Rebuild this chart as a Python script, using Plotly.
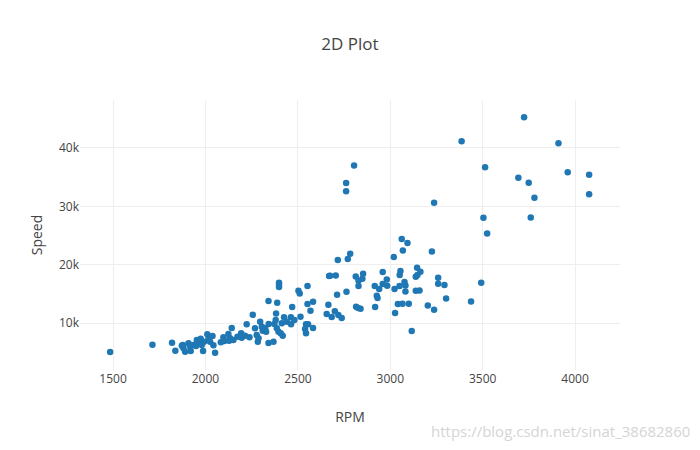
import plotly.graph_objects as go

rpm = [1484, 1713, 1819, 1837, 1872, 1881, 1890, 1877, 1908, 1920, 1917, 1935, 1953, 1962, 1949,
       1974, 1980, 1987, 1992, 2010, 2016, 2025, 2038, 2043, 2052, 2083, 2097, 2102, 2124, 2142,
       2133, 2151, 2128, 2173, 2193, 2196, 2214, 2223, 2238, 2256, 2268, 2277, 2283, 2287, 2296,
       2305, 2310, 2323, 2328, 2341, 2341, 2368, 2342, 2373, 2380, 2388, 2382, 2398, 2398, 2398,
       2386, 2395, 2407, 2418, 2413, 2425, 2440, 2462, 2463, 2469, 2481, 2514, 2503, 2510, 2552,
       2552, 2582, 2568, 2544, 2555, 2539, 2544, 2582, 2656, 2665, 2669, 2674, 2705, 2683, 2700,
       2719, 2737, 2712, 2763, 2716, 2770, 2783, 2813, 2828, 2849, 2853, 2828, 2815, 2826, 2839,
       2918, 2927, 2931, 2916, 2940, 2959, 2959, 2981, 2983, 3019, 3026, 3023, 3050, 3041, 3066,
       3100, 3062, 3093, 3068, 3051, 3055, 3077, 3082, 3082, 3116, 3138, 3145, 3147, 3163, 3138,
       3158, 3203, 3225, 3237, 3259, 3259, 3293, 3302, 3437, 3492, 3524, 3237, 3386, 3504, 3513,
       3760, 3693, 3724, 3749, 3780, 3910, 3960, 4076, 4076, 2761, 2761, 2804]
speed = [5035, 6290, 6632, 5262, 6119, 5662, 5092, 6233, 6518, 5205, 5947, 6233, 7089, 6518, 6062,
         7317, 6233, 5205, 6804, 8059, 7260, 6804, 7774, 6176, 4920, 6689, 7546, 6918, 8116, 9143,
         7374, 7089, 6975, 7660, 8230, 7489, 7831, 9771, 7546, 11426, 9086, 7945, 6804, 7374, 10228,
         9372, 8687, 9086, 8516, 13766, 6575, 6804, 9828, 9828, 10513, 13481, 11654, 16905, 16505, 16163,
         9086, 8516, 8230, 7831, 9943, 10970, 10228, 10970, 9771, 12739, 10513, 11083, 15535, 15079, 16334,
         13253, 13652, 12111, 9771, 9771, 8972, 8230, 9143, 11540, 13138, 18046, 18104, 18160, 11027, 12000,
         11369, 10856, 14851, 15364, 20786, 20957, 21870, 17989, 17247, 17590, 18446, 16334, 12796, 12568, 12453,
         12739, 14679, 14280, 16334, 15821, 16676, 18731, 17476, 16391, 21299, 11711, 15821, 16334, 13253, 13310,
         13310, 24381, 23696, 22441, 18218, 18903, 17019, 16448, 15421, 8630, 17932, 19473, 18218, 18788, 15535,
         15592, 13024, 22269, 12283, 17761, 16734, 16505, 14223, 13709, 16904, 25351, 30600, 41158, 28032, 36707,
         28089, 34880, 45267, 34025, 31456, 40816, 35851, 35394, 32084, 34000, 32600, 37000]

title_text = "2D Plot"
x_title = "RPM"
y_title = "Speed"
watermark = "https://blog.csdn.net/sinat_38682860"

fig = go.Figure(go.Scatter(x=rpm, y=speed, mode="markers",
                           marker={"color": "#1f77b4", "size": 6.5}))

# the page body adds an 8px margin, so the figure is a little smaller than the window
fig.update_layout(
    template="none",
    width=692, height=442,
    autosize=False,
    paper_bgcolor="white", plot_bgcolor="white",
    font={"family": "Open Sans, sans-serif", "color": "#444", "size": 12},
    margin={"l": 72, "r": 80, "t": 92, "b": 80},
    title={"text": title_text, "x": 0.4942, "xanchor": "center", "y": 0.9186, "yanchor": "middle",
           "font": {"size": 17}},
    showlegend=False,
)
fig.update_xaxes(title={"text": x_title, "font": {"size": 14}}, range=[1321, 4243],
                 tickvals=[1500, 2000, 2500, 3000, 3500, 4000], showgrid=True, gridcolor="#eee",
                 zeroline=False, showline=False, ticks="", automargin=False)
fig.update_yaxes(title={"text": y_title, "font": {"size": 14}}, range=[1952, 48219],
                 tickvals=[10000, 20000, 30000, 40000], ticktext=["10k", "20k", "30k", "40k"],
                 showgrid=True, gridcolor="#eee", zeroline=False, showline=False, ticks="",
                 automargin=False)
fig.add_annotation(text=watermark, xref="paper", yref="paper", x=1.1333, y=-0.226,
                   xanchor="right", yanchor="middle", showarrow=False,
                   font={"family": "Open Sans, sans-serif", "size": 15, "color": "#d5d5d5"})

fig.write_html("out.html", config={"displayModeBar": False})
